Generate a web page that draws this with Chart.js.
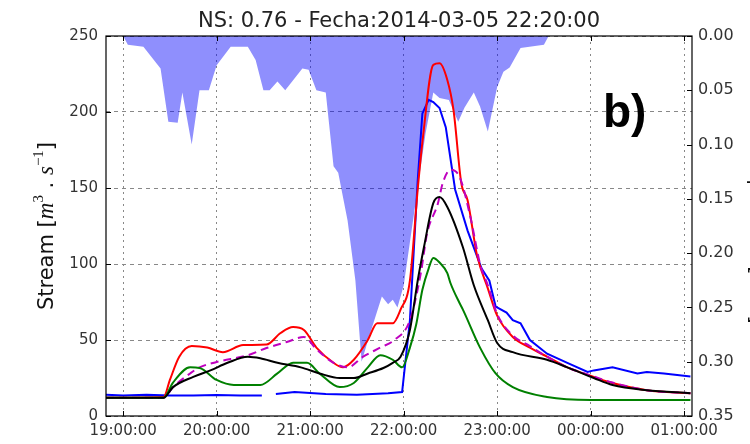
<!DOCTYPE html>
<html>
<head>
<meta charset="utf-8">
<script src="https://cdn.jsdelivr.net/npm/chart.js@4"></script>
<style>
  body { margin: 0; background: #fff; }
  #wrap { width: 750px; height: 444px; }
</style>
</head>
<body>
<div id="wrap"><canvas id="flowChart" width="750" height="444"></canvas></div>
<script>
// rain (right axis, reversed)
const rainTimes = ['19:00','19:03','19:13','19:24','19:29','19:35','19:38','19:44','19:49','19:55','20:00','20:09','20:20','20:25','20:30','20:34','20:39','20:44','20:55','20:59','21:04','21:10','21:15','21:18','21:24','21:29','21:33','21:38','21:46','21:50','21:53','21:56','22:00','22:04','22:09','22:14','22:19','22:23','22:29','22:35','22:39','22:45','22:49','22:54','23:00','23:04','23:08','23:15','23:30','23:33'];
const rainVals = [0,0.008,0.01,0.03,0.079,0.08,0.052,0.10,0.05,0.05,0.027,0.01,0.01,0.022,0.05,0.05,0.042,0.05,0.03,0.031,0.05,0.052,0.12,0.126,0.17,0.225,0.30,0.276,0.240,0.247,0.243,0.25,0.23,0.19,0.14,0.09,0.052,0.057,0.059,0.079,0.066,0.052,0.065,0.088,0.047,0.033,0.029,0.011,0.008,0];

// observed stream (blue), null = missing data
const obsTimes = ['18:49','19:00','19:15','19:30','19:45','20:00','20:15','20:29','20:33','20:38','20:50','21:10','21:30','21:50','21:59','22:04','22:06','22:09','22:12','22:16','22:19','22:23','22:27','22:33','22:41','22:50','22:55','22:59','23:06','23:10','23:15','23:21','23:32','23:45','23:58','00:02','00:14','00:30','00:36','00:47','01:04'];
const obsVals = [14,13.5,14,13.5,13.5,13.8,13.5,13.5,null,14.5,15.8,14.5,14,15,15.8,63,100,155,199,208,206.5,202.6,190,149,122,97,89,72,68,63,61,50,41,35,29,30,32,28,29,28,26];

// model runs
const redTimes = ['18:49','19:26','19:30','19:36','19:44','19:54','20:04','20:17','20:32','20:41','20:49','20:56','21:04','21:15','21:21','21:28','21:37','21:43','21:53','21:58','22:04','22:09','22:12','22:19','22:23','22:28','22:32','22:37','22:41','22:47','22:54','23:00','23:10','23:21','23:32','23:45','00:02','00:14','00:36','01:04'];
const redVals = [12,12.5,23.7,39,46,45,42,46.7,47,54.6,58.5,56.6,45,35,32,37,50,61,61,70,89,149,180,231,232,221,201,153,142,106,84,66,52,45,39,32,25.7,21.7,17,15];

const greenTimes = ['18:49','19:26','19:32','19:43','19:49','20:00','20:11','20:28','20:39','20:49','20:58','21:06','21:19','21:28','21:37','21:45','21:53','21:59','22:04','22:08','22:12','22:16','22:19','22:23','22:28','22:30','22:36','22:38','22:49','22:59','23:10','23:32','00:00','01:04'];
const greenVals = [12,12,22,32,31.6,23.7,20.4,20.4,28,35,35,28,19,21.7,32,40,37,32,45,60,83,97,104,101,94,87.5,74,70,45,28,19,12.5,10.5,10.5];

const blackTimes = ['18:49','19:26','19:32','19:45','19:56','20:07','20:20','20:28','20:39','20:54','21:06','21:19','21:28','21:37','21:47','21:53','21:58','22:04','22:09','22:13','22:19','22:23','22:28','22:38','22:45','22:54','23:00','23:10','23:32','23:45','00:02','00:14','00:36','01:04'];
const blackVals = [12,12,19,25.7,30,35,39,38,35,32,28,25,25,28,31.6,35,39,56.6,89,111,140,144,137.5,111,86,63,48,42,37,32,25,20.4,17,15];

const simTimes = ['18:49','19:26','19:32','19:43','19:49','20:00','20:20','20:32','20:45','20:56','21:04','21:15','21:24','21:34','21:45','21:54','22:04','22:11','22:15','22:22','22:25','22:30','22:36','22:43','22:49','22:54','23:00','23:10','23:21','23:32','23:45','00:02','00:14','00:36','01:04'];
const simVals = [12,12,19,28,32,35.5,40,44.7,48.7,52,44,35,32,39,45,50,63,94,120,140,153,162,157,130,100,86,67,53,46,39,32,26,22,17,15];

const hourLabels = ['19:00:00','20:00:00','21:00:00','22:00:00','23:00:00','00:00:00','01:00:00'];
const flowTicks = [0, 50, 100, 150, 200, 250];
const rainTicks = [0, 0.05, 0.10, 0.15, 0.20, 0.25, 0.30, 0.35];
const titleText = 'NS: 0.76 - Fecha:2014-03-05 22:20:00';

// minutes after 19:00 (times past midnight roll over)
function toMin(t) {
    let [h, m] = t.split(':').map(Number);
    if (h < 12) h += 24;
    return (h - 19) * 60 + m;
}
function pts(times, vals) {
    return times.map((t, i) => ({ x: toMin(t), y: vals[i] }));
}
const hourValues = hourLabels.map(l => toMin(l.slice(0, 5)));

const tickFont = { family: 'DejaVu Sans', size: 15 };

// title, axis labels, "b)" tag, frame with inward ticks
const decorations = {
    id: 'decorations',
    afterDraw(chart) {
        const ctx = chart.ctx;
        const ca = chart.chartArea;
        ctx.save();

        ctx.fillStyle = '#222';
        ctx.font = '21px "DejaVu Sans"';
        ctx.textAlign = 'center';
        ctx.textBaseline = 'alphabetic';
        ctx.fillText(titleText, (ca.left + ca.right) / 2, 27);

        // left axis label, rotated
        const segs = [
            { t: 'Stream [', f: '21px "DejaVu Sans"', dy: 0 },
            { t: 'm', f: 'italic 23px "Liberation Serif"', dy: 0 },
            { t: '3', f: '15px "Liberation Serif"', dy: -10 },
            { t: ' . ', f: '21px "DejaVu Sans"', dy: 0 },
            { t: 's', f: 'italic 23px "Liberation Serif"', dy: 0 },
            { t: '\u22121', f: '15px "Liberation Serif"', dy: -10 },
            { t: ']', f: '21px "DejaVu Sans"', dy: 0 }
        ];
        let total = 0;
        segs.forEach(s => { ctx.font = s.f; s.w = ctx.measureText(s.t).width; total += s.w; });
        ctx.save();
        ctx.translate(53, (ca.top + ca.bottom) / 2);
        ctx.rotate(-Math.PI / 2);
        ctx.textAlign = 'left';
        ctx.fillStyle = '#111';
        let x = -total / 2;
        segs.forEach(s => { ctx.font = s.f; ctx.fillText(s.t, x, s.dy); x += s.w; });
        ctx.restore();

        // right axis label, almost entirely outside the canvas
        ctx.save();
        ctx.translate(751, (ca.top + ca.bottom) / 2);
        ctx.rotate(Math.PI / 2);
        ctx.font = '21px "DejaVu Sans"';
        ctx.textAlign = 'center';
        ctx.fillStyle = '#111';
        ctx.fillText('Precipitation [mm]', 0, 0);
        ctx.restore();

        ctx.fillStyle = '#000';
        ctx.font = 'bold 46px "Liberation Sans"';
        ctx.textAlign = 'left';
        ctx.fillText('b)', 603, 127);

        // frame
        ctx.strokeStyle = '#000';
        ctx.lineWidth = 1.2;
        ctx.strokeRect(ca.left, ca.top, ca.right - ca.left, ca.bottom - ca.top);

        // inward tick marks
        ctx.lineWidth = 1;
        ctx.beginPath();
        const xs = chart.scales.x, ys = chart.scales.y, y2 = chart.scales.y2;
        hourValues.forEach(v => {
            const px = Math.round(xs.getPixelForValue(v)) + 0.5;
            ctx.moveTo(px, ca.bottom); ctx.lineTo(px, ca.bottom - 5);
            ctx.moveTo(px, ca.top); ctx.lineTo(px, ca.top + 5);
        });
        flowTicks.forEach(v => {
            const py = Math.round(ys.getPixelForValue(v)) + 0.5;
            ctx.moveTo(ca.left, py); ctx.lineTo(ca.left + 5, py);
        });
        rainTicks.forEach(v => {
            const py = Math.round(y2.getPixelForValue(v)) + 0.5;
            ctx.moveTo(ca.right, py); ctx.lineTo(ca.right - 5, py);
        });
        ctx.stroke();
        ctx.restore();
    }
};

function lineSet(label, data, color, order, extra) {
    return Object.assign({
        label: label,
        data: data,
        borderColor: color,
        borderWidth: 2,
        pointRadius: 0,
        fill: false,
        cubicInterpolationMode: 'monotone',
        yAxisID: 'y',
        order: order
    }, extra || {});
}

new Chart(document.getElementById('flowChart').getContext('2d'), {
    type: 'line',
    data: {
        datasets: [
            {
                label: 'Rain',
                data: pts(rainTimes, rainVals),
                yAxisID: 'y2',
                borderWidth: 0,
                pointRadius: 0,
                tension: 0,
                fill: 'origin',
                backgroundColor: 'rgba(0, 0, 250, 0.44)',
                order: 10
            },
            lineSet('Observed', pts(obsTimes, obsVals), '#0000ff', 5, { cubicInterpolationMode: 'default', tension: 0, spanGaps: false }),
            lineSet('Sim 1', pts(redTimes, redVals), '#ff0000', 4),
            lineSet('Sim 2', pts(simTimes, simVals), '#bf00bf', 3, { borderDash: [8, 5] }),
            lineSet('Sim 3', pts(greenTimes, greenVals), '#008000', 2),
            lineSet('Sim 4', pts(blackTimes, blackVals), '#000000', 1)
        ]
    },
    options: {
        responsive: false,
        animation: false,
        layout: { padding: { top: 36, left: 0, right: 0, bottom: 0 } },
        plugins: {
            legend: { display: false },
            tooltip: { enabled: false },
            title: { display: false }
        },
        scales: {
            x: {
                type: 'linear',
                min: toMin('18:49'),
                max: toMin('01:05'),
                afterBuildTicks: s => { s.ticks = hourValues.map(v => ({ value: v })); },
                afterFit: s => { s.height = 28; },
                ticks: {
                    padding: 6,
                    maxRotation: 0,
                    autoSkip: false,
                    color: '#333',
                    font: tickFont,
                    callback: v => hourLabels[hourValues.indexOf(v)]
                },
                grid: { color: '#888', lineWidth: 1, drawTicks: false },
                border: { display: false, dash: [2, 4] }
            },
            y: {
                position: 'left',
                min: 0,
                max: 250,
                afterBuildTicks: s => { s.ticks = flowTicks.map(v => ({ value: v })); },
                afterFit: s => { s.width = 106; },
                ticks: { padding: 8, color: '#333', font: tickFont },
                grid: { color: '#888', lineWidth: 1, drawTicks: false },
                border: { display: false, dash: [4, 4] }
            },
            y2: {
                position: 'right',
                reverse: true,
                min: 0,
                max: 0.35,
                afterBuildTicks: s => { s.ticks = rainTicks.map(v => ({ value: v })); },
                afterFit: s => { s.width = 58; },
                ticks: {
                    padding: 6,
                    color: '#333',
                    font: { family: 'DejaVu Sans', size: 16 },
                    callback: v => v.toFixed(2)
                },
                grid: { display: false, drawTicks: false },
                border: { display: false }
            }
        }
    },
    plugins: [decorations]
});
</script>
</body>
</html>
